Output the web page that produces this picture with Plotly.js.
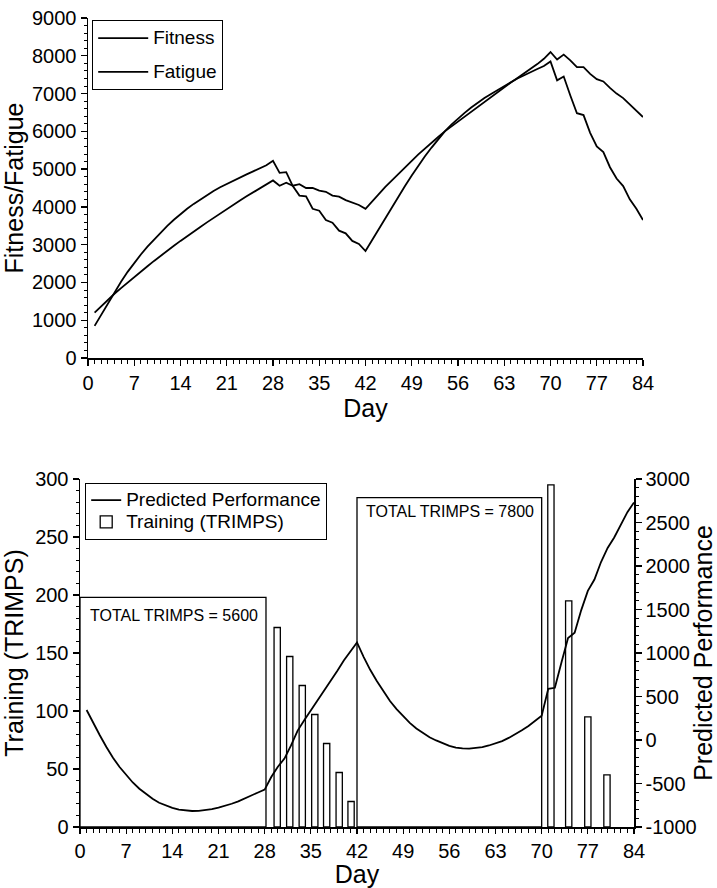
<!DOCTYPE html>
<html>
<head>
<meta charset="utf-8">
<script src="https://cdn.plot.ly/plotly-3.0.1.min.js"></script>
<style>html,body{margin:0;padding:0;background:#fff;}#chart{width:717px;height:888px;}</style>
</head>
<body>
<div id="chart"></div>
<script>
// ---------------- data ----------------
const days = [1,2,3,4,5,6,7,8,9,10,11,12,13,14,15,16,17,18,19,20,21,22,23,24,25,26,27,28,
  29,30,31,32,33,34,35,36,37,38,39,40,41,42,43,44,45,46,47,48,49,50,51,52,53,54,55,56,
  57,58,59,60,61,62,63,64,65,66,67,68,69,70,71,72,73,74,75,76,77,78,79,80,81,82,83,84];

const fitness = [1200,1370,1540,1700,1850,2000,2150,2290,2430,2570,2710,2840,2970,3100,
  3230,3350,3470,3590,3710,3830,3950,4060,4170,4280,4390,4490,4600,4700,
  4560,4640,4560,4600,4500,4500,4430,4400,4300,4270,4180,4120,4050,3950,
  4150,4350,4530,4700,4880,5050,5220,5390,5550,5700,5850,6000,6130,6260,
  6400,6530,6660,6790,6920,7050,7170,7290,7410,7530,7650,7780,7920,8100,
  7900,8030,7880,7700,7700,7520,7380,7320,7150,7000,6880,6720,6560,6380];

const fatigue = [850,1150,1450,1750,2020,2280,2520,2740,2950,3140,3320,3500,3660,3810,
  3950,4080,4200,4310,4420,4520,4610,4700,4780,4860,4940,5020,5100,5220,
  4900,4920,4550,4300,4280,3950,3900,3650,3580,3370,3300,3100,3020,2830,
  3120,3420,3720,4000,4280,4560,4830,5090,5340,5570,5790,6000,6180,6340,
  6490,6630,6760,6880,6990,7100,7200,7300,7400,7490,7570,7650,7730,7850,
  7350,7450,6950,6480,6430,5960,5600,5450,5050,4750,4550,4200,3950,3650];

const performance = [345,195,55,-80,-205,-310,-405,-488,-560,-622,-676,-721,-755,-781,
  -800,-811,-816,-814,-806,-794,-778,-757,-733,-705,-674,-640,-603,-570,
  -426,-307,-214,-63,108,228,339,455,561,682,793,913,1014,1121,
  956,807,678,558,449,355,271,197,133,78,32,-5,-39,-68,
  -87,-97,-98,-92,-81,-63,-39,-12,24,65,111,162,218,278,
  589,600,891,1172,1233,1493,1714,1845,2046,2207,2328,2478,2619,2730];

// training blocks (constant daily load over a period)
const blockStart = [0, 42.0];
const blockEnd   = [28.2, 70.0];
const blockLoad  = [198, 284];
const blockTotals = ['TOTAL TRIMPS = 5600', 'TOTAL TRIMPS = 7800'];

// single training days (TRIMPS)
const taperDay  = [29.9, 31.8, 33.7, 35.6, 37.4, 39.3, 41.1];
const taperLoad = [172, 147, 122, 97, 72, 47, 22];
const peakDay   = [71.4, 74.1, 77.0, 79.9];
const peakLoad  = [295, 195, 95, 45];

const dayTicks = [0,7,14,21,28,35,42,49,56,63,70,77,84];
const perfTickVals = [-1000,-500,0,500,1000,1500,2000,2500,3000];
const perfTickText = ['-1000','-500','0','500','1000','1500','2000','2500','3000'];

// ---------------- layout helpers ----------------
const W = 717, H = 888;
const fx = p => p / W;
const fy = p => 1 - p / H;
const FONT = 'Liberation Sans, Arial, sans-serif';
const TICKFONT = {family: 'Liberation Sans Narrow, Arial Narrow, Liberation Sans, sans-serif', size: 20, color: '#000'};
const TITLEFONT = {family: FONT, size: 25, color: '#000'};
const BAR_W = 0.95;
const big = t => '<span style="font-size:19px">' + t + '</span>';

const barX = [], barY = [], barW = [];
blockStart.forEach((s, i) => { barX.push((s + blockEnd[i]) / 2); barW.push(blockEnd[i] - s); barY.push(blockLoad[i]); });
taperDay.forEach((d, i) => { barX.push(d); barW.push(BAR_W); barY.push(taperLoad[i]); });
peakDay.forEach((d, i) => { barX.push(d); barW.push(BAR_W); barY.push(peakLoad[i]); });

const lineStyle = {color: '#000', width: 1.8};

const traces = [
  {x: days, y: fitness, type: 'scatter', mode: 'lines', name: big('Fitness'), line: lineStyle,
   xaxis: 'x', yaxis: 'y', legend: 'legend', legendgroup: 'a'},
  {x: days, y: fatigue, type: 'scatter', mode: 'lines', name: big('Fatigue'), line: lineStyle,
   xaxis: 'x', yaxis: 'y', legend: 'legend', legendgroup: 'b'},
  {x: days, y: performance, type: 'scatter', mode: 'lines', name: big('Predicted Performance'), line: lineStyle,
   xaxis: 'x2', yaxis: 'y4', legend: 'legend2'},
  {x: barX, y: barY, width: barW, type: 'bar', name: big('Training (TRIMPS)'),
   marker: {color: 'rgba(0,0,0,0)', line: {color: '#000', width: 1.3}},
   xaxis: 'x2', yaxis: 'y3', legend: 'legend2'}
];

const axisCommon = {
  showline: true, linecolor: '#000', linewidth: 1.5, showgrid: false, zeroline: false,
  ticks: 'outside', ticklen: 7, tickwidth: 1.3, tickcolor: '#000', tickfont: TICKFONT,
  fixedrange: true
};
const minorX = {dtick: 1, tick0: 0, ticklen: 4, tickwidth: 1, tickcolor: '#000', ticks: 'outside', showgrid: false};

const layout = {
  width: W, height: H,
  margin: {l: 0, r: 0, t: 0, b: 0},
  paper_bgcolor: '#fff', plot_bgcolor: 'rgba(0,0,0,0)',
  font: {family: FONT, color: '#000'},
  showlegend: true,
  xaxis: Object.assign({}, axisCommon, {
    domain: [fx(88), fx(643)], range: [0, 84], anchor: 'y',
    tickmode: 'array', tickvals: dayTicks, ticklen: 6, minor: minorX,
    title: {text: 'Day', font: TITLEFONT, standoff: 4}
  }),
  yaxis: Object.assign({}, axisCommon, {
    domain: [fy(358), fy(18)], range: [0, 9000], anchor: 'x',
    tick0: 0, dtick: 1000, ticklen: 6,
    minor: {dtick: 200, ticklen: 3, tickwidth: 1, tickcolor: '#000', ticks: 'outside', showgrid: false},
    title: {text: 'Fitness/Fatigue', font: TITLEFONT, standoff: 6}
  }),
  xaxis2: Object.assign({}, axisCommon, {
    domain: [fx(80), fx(634)], range: [0, 84], anchor: 'y3',
    tickmode: 'array', tickvals: dayTicks, ticklen: 5, minor: minorX,
    title: {text: 'Day', font: TITLEFONT, standoff: 7}
  }),
  yaxis3: Object.assign({}, axisCommon, {
    domain: [fy(827), fy(479)], range: [0, 300], anchor: 'x2',
    tick0: 0, dtick: 50, ticklen: 6,
    minor: {dtick: 10, ticklen: 3, tickwidth: 1, tickcolor: '#000', ticks: 'outside', showgrid: false},
    title: {text: 'Training (TRIMPS)', font: TITLEFONT, standoff: 6}
  }),
  yaxis4: Object.assign({}, axisCommon, {
    overlaying: 'y3', side: 'right', anchor: 'x2', range: [-1000, 3000],
    tickmode: 'array', tickvals: perfTickVals, ticktext: perfTickText, ticklen: 6,
    minor: {tickmode: 'linear', tick0: -1000, dtick: 100, ticklen: 3, tickwidth: 1, tickcolor: '#000', ticks: 'outside', showgrid: false},
    title: {text: 'Predicted Performance', font: TITLEFONT, standoff: 4}
  }),
  legend: {
    x: fx(92), y: fy(20), xanchor: 'left', yanchor: 'top',
    bgcolor: '#fff', bordercolor: '#000', borderwidth: 1.2,
    font: {family: FONT, size: 16, color: '#000'}, tracegroupgap: 10, itemwidth: 50
  },
  legend2: {
    x: fx(85), y: fy(483), xanchor: 'left', yanchor: 'top',
    bgcolor: '#fff', bordercolor: '#000', borderwidth: 1.2,
    font: {family: FONT, size: 14.5, color: '#000'}, tracegroupgap: 0, itemwidth: 30
  },
  annotations: [
    {xref: 'x2', yref: 'y3', x: blockStart[0] + 1.2, y: 182, text: blockTotals[0], showarrow: false,
     xanchor: 'left', yanchor: 'middle', font: {family: FONT, size: 16, color: '#000'}},
    {xref: 'x2', yref: 'y3', x: blockStart[1] + 1.0, y: 272, text: blockTotals[1], showarrow: false,
     xanchor: 'left', yanchor: 'middle', font: {family: FONT, size: 16, color: '#000'}}
  ]
};

Plotly.newPlot('chart', traces, layout, {displayModeBar: false, staticPlot: true});
</script>
</body>
</html>
